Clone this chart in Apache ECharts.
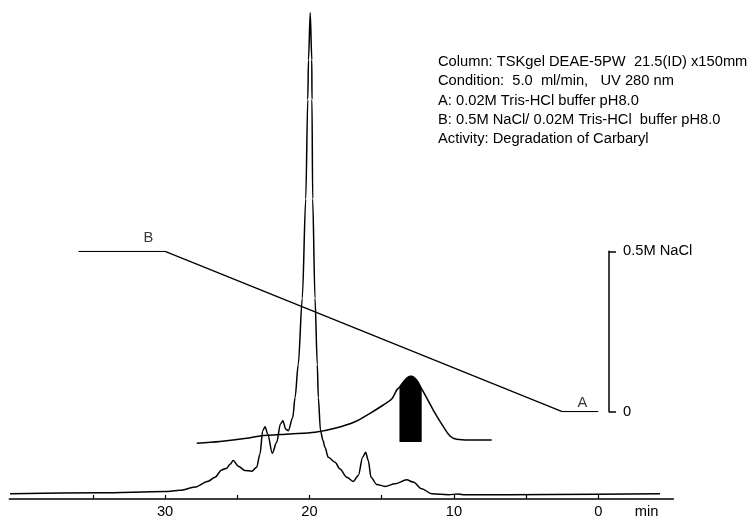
<!DOCTYPE html>
<html>
<head>
<meta charset="utf-8">
<script src="https://cdn.jsdelivr.net/npm/echarts@6/dist/echarts.min.js"></script>
<style>
html,body{margin:0;padding:0;background:#fff;}
#chart{width:753px;height:519px;}
</style>
</head>
<body>
<div id="chart"></div>
<script>
// ---- data ----
// UV 280 nm chromatogram: elution time (min) and relative absorbance
const uvTime = [40.74,34.51,30.01,28.97,27.93,27.01,26.54,26.08,25.73,25.50,25.28,24.93,24.47,24.00,23.66,23.43,23.24,23.08,22.89,22.58,22.27,22.02,21.84,21.65,21.47,21.16,21.00,20.78,20.50,20.26,20.12,20.07,19.95,19.84,19.83,19.78,19.62,19.46,19.39,19.24,19.07,18.93,18.70,18.23,17.89,17.42,16.97,16.62,16.32,16.11,15.93,15.74,15.35,14.77,14.08,13.27,12.81,12.23,11.54,10.39,9.70,9.23,3.34,-4.27];
const uvSignal = [1.08,1.27,1.53,1.78,2.45,3.67,4.49,5.98,6.33,7.14,7.90,6.73,5.86,5.71,6.53,9.24,14.02,14.84,13.33,9.39,11.63,15.37,16.06,14.35,14.02,16.73,20.82,27.61,41.22,61.63,82.04,90.20,99.86,90.20,82.04,61.63,41.22,27.61,20.82,14.08,12.04,10.61,8.57,7.55,6.18,4.49,3.61,4.84,8.57,9.59,7.90,4.49,3.00,2.59,3.12,3.94,3.47,2.10,1.08,0.88,1.02,0.86,0.92,1.08];
// Activity (degradation of carbaryl), relative %
const actTime = [27.81,26.20,24.35,23.43,21.35,19.62,18.24,16.85,15.81,14.89,14.31,13.96,13.77,13.39,12.99,12.58,12.23,12.12,11.43,10.73,10.27,9.81,8.89,7.38];
const actValue = [-1.97,0.76,5.61,9.09,12.12,14.70,20.76,30.76,43.48,56.06,65.00,78.79,83.00,93.94,100,93.94,80.50,76.21,48.48,23.18,9.09,4.09,3.03,3.03];
// Active fraction (filled)
const fillTime = [13.77,13.39,12.99,12.58,12.23];
const fillValue = [83.00,93.94,100,93.94,80.50];
// NaCl gradient (M)
const gradTime = [36,30,2.5,0];
const gradNaCl = [0.5,0.5,0,0];
const gradLabels = ['B','A'];
const gradLabelTime = [31.16,1.1];
const gradLabelNaCl = [0.5,0];
// axes
const xTickValues = [35,30,25,20,15,10,5,0];
const xLabelValues = [30,20,10,0];
const xMin = -5.194, xMax = 40.79;
const xMinScale = -0.741; // time at the NaCl scale bar position
const naclTicks = [0,0.5];
const naclTickText = ['0','0.5M NaCl'];
const infoLines = [
  'Column: TSKgel DEAE-5PW  21.5(ID) x150mm',
  'Condition:  5.0  ml/min,   UV 280 nm',
  'A: 0.02M Tris-HCl buffer pH8.0',
  'B: 0.5M NaCl/ 0.02M Tris-HCl  buffer pH8.0',
  'Activity: Degradation of Carbaryl'
];

const zip = (a,b) => a.map((v,i)=>[v,b[i]]);
const FONT = '"Liberation Sans", Arial, Helvetica, sans-serif';
const FS = 14.7;

const chart = echarts.init(document.getElementById('chart'), null, {renderer:'canvas'});
const hiddenX = (gi, mn) => ({gridIndex:gi, type:'value', min:mn, max:xMax, inverse:true, show:false});

chart.setOption({
  animation:false,
  backgroundColor:'#fff',
  textStyle:{fontFamily:FONT},
  title:{
    text: infoLines.join('\n'),
    left:438, top:52, padding:0,
    textStyle:{fontFamily:FONT, fontSize:FS, fontWeight:'normal', color:'#000', lineHeight:19.4}
  },
  grid:[
    {left:9.3, right:79.7, top:12, bottom:17},
    {left:9.3, right:79.7, top:376, bottom:70.4},
    {left:9.3, right:144, top:251.3, bottom:107.3}
  ],
  xAxis:[
    {
      gridIndex:0, type:'value', min:xMin, max:xMax, inverse:true,
      axisLine:{show:true, onZero:false, lineStyle:{color:'#000', width:1.5}},
      axisTick:{show:true, inside:true, length:4, customValues:xTickValues, lineStyle:{color:'#000', width:1.2}},
      axisLabel:{show:true, customValues:xLabelValues, color:'#000', fontSize:FS, fontFamily:FONT, margin:5},
      splitLine:{show:false},
      name:'min', nameLocation:'start', nameGap:-26.6,
      nameTextStyle:{color:'#000', fontSize:FS, fontFamily:FONT, align:'center', verticalAlign:'top', padding:[5,0,0,0]}
    },
    hiddenX(1, xMin),
    hiddenX(2, xMinScale)
  ],
  yAxis:[
    {gridIndex:0, type:'value', min:0, max:100, show:false},
    {gridIndex:1, type:'value', min:-10, max:100, show:false},
    {
      gridIndex:2, type:'value', min:0, max:0.5, interval:0.5, position:'right',
      axisLine:{show:true, onZero:false, lineStyle:{color:'#000', width:1.5}},
      axisTick:{show:true, inside:false, length:7, lineStyle:{color:'#000', width:1.5}},
      axisLabel:{show:true, color:'#000', fontSize:FS, fontFamily:FONT, margin:14,
        formatter:(v)=>{const i=naclTicks.indexOf(v);return i>=0?naclTickText[i]:'';}},
      splitLine:{show:false}
    }
  ],
  series:[
    {
      name:'UV 280 nm', type:'line', xAxisIndex:0, yAxisIndex:0,
      data:zip(uvTime,uvSignal), showSymbol:false, smooth:0.3, smoothMonotone:'x',
      lineStyle:{color:'#000', width:1.5}
    },
    {
      name:'Active fraction', type:'line', xAxisIndex:1, yAxisIndex:1,
      data:zip(fillTime,fillValue), showSymbol:false, smooth:0.3,
      lineStyle:{width:0}, areaStyle:{color:'#000', opacity:1, origin:0}
    },
    {
      name:'Activity', type:'line', xAxisIndex:1, yAxisIndex:1,
      data:zip(actTime,actValue), showSymbol:false, smooth:0.3,
      lineStyle:{color:'#000', width:1.5}
    },
    {
      name:'NaCl gradient', type:'line', xAxisIndex:2, yAxisIndex:2,
      data:zip(gradTime,gradNaCl), showSymbol:false, smooth:false,
      lineStyle:{color:'#000', width:1.3}
    },
    {
      name:'Gradient labels', type:'scatter', xAxisIndex:2, yAxisIndex:2,
      symbolSize:0,
      data:gradLabels.map((t,i)=>({value:[gradLabelTime[i],gradLabelNaCl[i]], name:t,
        label:{show:true, position:'inside', offset:[0, i===0?-13.7:-8.7], formatter:t,
          color:'#000', fontSize:FS, fontFamily:FONT}}))
    }
  ]
});
</script>
</body>
</html>
